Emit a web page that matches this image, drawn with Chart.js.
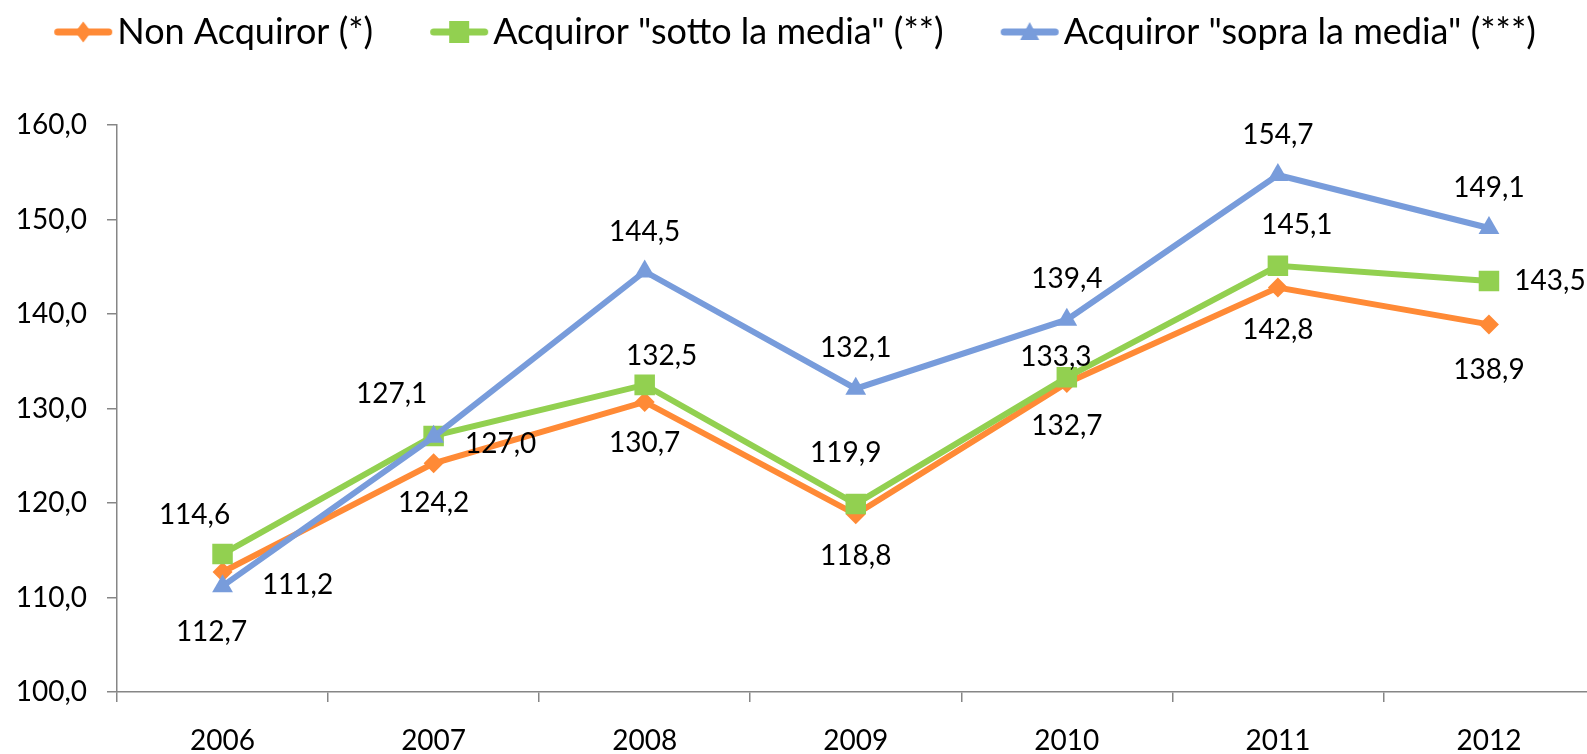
<!DOCTYPE html>
<html>
<head>
<meta charset="utf-8">
<script src="https://cdn.jsdelivr.net/npm/chart.js@4.4.0/dist/chart.umd.min.js"></script>
<style>
  html, body { margin: 0; padding: 0; background: #fff; overflow: hidden; }
  canvas { display: block; }
</style>
</head>
<body>
<canvas id="chart" width="1609" height="754"></canvas>
<script>
// anni e indici per gruppo
const years = ['2006', '2007', '2008', '2009', '2010', '2011', '2012'];
const nonAcquiror = [112.7, 124.2, 130.7, 118.8, 132.7, 142.8, 138.9];
const sottoMedia = [114.6, 127.1, 132.5, 119.9, 133.3, 145.1, 143.5];
const sopraMedia = [111.2, 127.0, 144.5, 132.1, 139.4, 154.7, 149.1];
const yMin = 100, yMax = 160, yStep = 10;

// spostamento delle etichette rispetto al punto (px)
const nonAcquirorLabelOffset = [[-11, 60], [0, 40], [0, 41], [0, 42], [0, 43], [0, 42], [0, 46]];
const sottoMediaLabelOffset = [[-28, -39], [-42, -42], [17, -29], [-10, -51], [-11, -20], [19, -41], [61, 0]];
const sopraMediaLabelOffset = [[75, -1], [67, 7], [0, -40], [0, -41], [0, -41], [0, -40], [0, -40]];

const ORANGE = '#FF8A36';
const GREEN = '#92D050';
const BLUE = '#789CDB';
const FONT = 'Lato, "Open Sans", sans-serif';

const fmt = v => v.toFixed(1).replace('.', ',');

// icona legenda: linea + marcatore
function legendIcon(color, shape) {
    const c = document.createElement('canvas');
    c.width = 126;
    c.height = 26;
    const g = c.getContext('2d');
    g.strokeStyle = color;
    g.fillStyle = color;
    g.lineWidth = 7;
    g.lineCap = 'round';
    g.beginPath();
    g.moveTo(67.5, 13);
    g.lineTo(118.5, 13);
    g.stroke();
    const cx = 93, cy = 13;
    g.beginPath();
    if (shape === 'diamond') {
        g.moveTo(cx, cy - 10.5); g.lineTo(cx + 8, cy); g.lineTo(cx, cy + 10.5); g.lineTo(cx - 8, cy);
    } else if (shape === 'square') {
        g.rect(cx - 10, cy - 11, 20, 22);
    } else {
        g.moveTo(cx, cy - 10); g.lineTo(cx + 9.5, cy + 8); g.lineTo(cx - 9.5, cy + 8);
    }
    g.closePath();
    g.fill();
    return c;
}

const legendIcons = [
    legendIcon(ORANGE, 'diamond'),
    legendIcon(GREEN, 'square'),
    legendIcon(BLUE, 'triangle')
];

const labelOffsets = [nonAcquirorLabelOffset, sottoMediaLabelOffset, sopraMediaLabelOffset];

const pointLabels = {
    id: 'pointLabels',
    afterDatasetsDraw(chart) {
        const ctx = chart.ctx;
        ctx.save();
        ctx.font = '28px ' + FONT;
        ctx.fillStyle = '#000';
        ctx.textAlign = 'center';
        ctx.textBaseline = 'middle';
        chart.data.datasets.forEach((ds, i) => {
            const meta = chart.getDatasetMeta(i);
            meta.data.forEach((pt, j) => {
                const off = labelOffsets[i][j];
                ctx.fillText(fmt(ds.data[j]), pt.x + off[0], pt.y + off[1]);
            });
        });
        ctx.restore();
    }
};

// spazio extra sotto la legenda e legenda spostata a sinistra
const legendGap = {
    id: 'legendGap',
    beforeInit(chart) {
        if (!chart.legend) return;
        const fit = chart.legend.fit;
        chart.legend.fit = function () {
            fit.call(this);
            this.height += 65;
        };
    },
    beforeDraw(chart) {
        const lg = chart.legend;
        if (lg && !lg._shifted) {
            lg.left -= 33;
            lg.right -= 33;
            lg._shifted = true;
        }
    }
};

const ctx = document.getElementById('chart').getContext('2d');
const chart = new Chart(ctx, {
    type: 'line',
    data: {
        labels: years,
        datasets: [
            {
                label: 'Non Acquiror (*)', data: nonAcquiror, order: 3,
                borderColor: ORANGE, backgroundColor: ORANGE, borderWidth: 6,
                pointStyle: 'rectRot', pointRadius: 10, pointBorderWidth: 0
            },
            {
                label: 'Acquiror "sotto la media" (**)', data: sottoMedia, order: 2,
                borderColor: GREEN, backgroundColor: GREEN, borderWidth: 6,
                pointStyle: 'rect', pointRadius: 14.5, pointBorderWidth: 0
            },
            {
                label: 'Acquiror "sopra la media" (***)', data: sopraMedia, order: 1,
                borderColor: BLUE, backgroundColor: BLUE, borderWidth: 6,
                pointStyle: 'triangle', pointRadius: 12, pointBorderWidth: 0
            }
        ]
    },
    options: {
        responsive: false,
        animation: false,
        devicePixelRatio: 1,
        layout: { padding: { top: 4, right: 0, left: 0, bottom: 0 } },
        font: { family: FONT },
        plugins: {
            legend: {
                position: 'top',
                labels: {
                    usePointStyle: true,
                    pointStyleWidth: 92,
                    padding: 10,
                    color: '#000',
                    font: { family: FONT, size: 36 },
                    generateLabels(chart) {
                        const items = Chart.defaults.plugins.legend.labels.generateLabels(chart);
                        items.sort((a, b) => a.datasetIndex - b.datasetIndex);
                        items.forEach(it => { it.pointStyle = legendIcons[it.datasetIndex]; });
                        return items;
                    }
                }
            },
            tooltip: { enabled: false }
        },
        scales: {
            x: {
                offset: true,
                grid: { offset: true, drawOnChartArea: false, drawTicks: true, tickLength: 10, color: '#868686', lineWidth: 1.5 },
                border: { color: '#868686', width: 1.5 },
                ticks: { color: '#000', font: { family: FONT, size: 28 }, padding: 22 },
                afterFit(scale) {
                    scale.height = 62;
                    scale.paddingLeft = 0;
                    scale.paddingRight = 0;
                }
            },
            y: {
                min: yMin,
                max: yMax,
                grid: { drawOnChartArea: false, drawTicks: true, tickLength: 10, color: '#868686', lineWidth: 1.5 },
                border: { color: '#868686', width: 1.5 },
                ticks: { stepSize: yStep, color: '#000', font: { family: FONT, size: 28 }, padding: 20, callback: v => fmt(v) },
                afterFit(scale) {
                    scale.width = 117;
                    scale.paddingTop = 0;
                    scale.paddingBottom = 0;
                }
            }
        }
    },
    plugins: [legendGap, pointLabels]
});
</script>
</body>
</html>
